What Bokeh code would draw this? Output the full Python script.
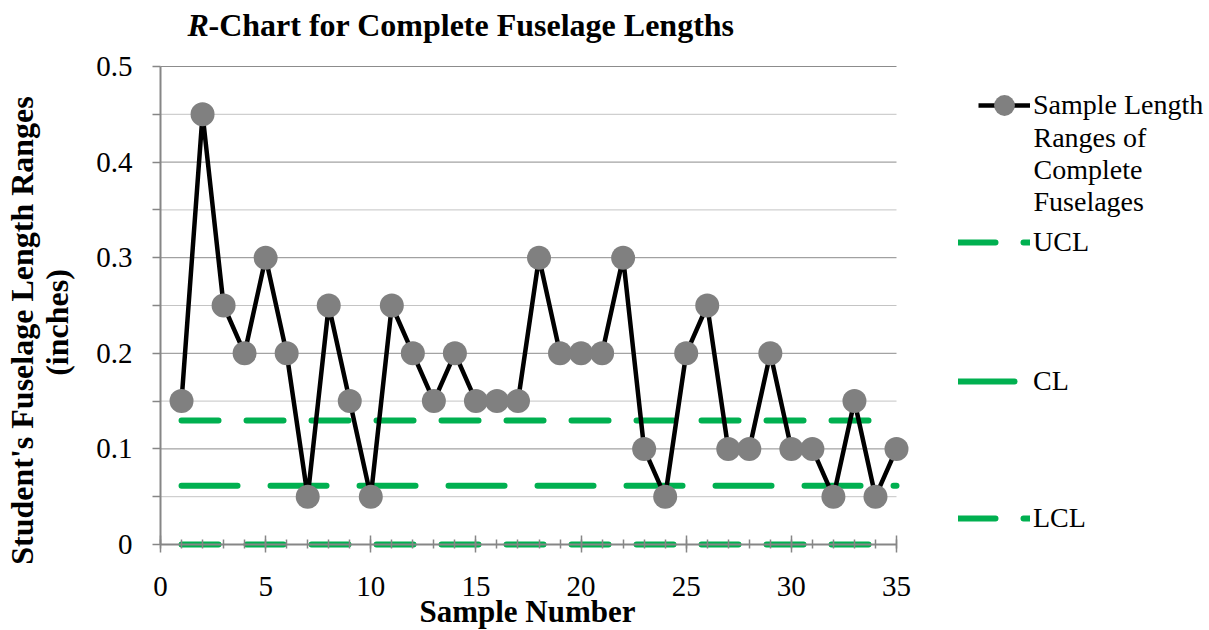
import math
from bokeh.plotting import figure
from bokeh.models import FixedTicker, Label, Legend, LegendItem, Range1d
from bokeh.embed import file_html
from bokeh.resources import INLINE

# ---- data -------------------------------------------------------------
sample_number = list(range(1, 36))
sample_range = [0.15, 0.45, 0.25, 0.20, 0.30, 0.20, 0.05, 0.25, 0.15, 0.05,
                0.25, 0.20, 0.15, 0.20, 0.15, 0.15, 0.15, 0.30, 0.20, 0.20,
                0.20, 0.30, 0.10, 0.05, 0.20, 0.25, 0.10, 0.10, 0.20, 0.10,
                0.10, 0.05, 0.15, 0.05, 0.10]
ucl_value = 0.1298
cl_value = 0.0614
lcl_value = 0.0

x_ticks = [0, 5, 10, 15, 20, 25, 30, 35]
x_minor_ticks = list(range(0, 36))
y_ticks = [0.0, 0.1, 0.2, 0.3, 0.4, 0.5]
y_tick_labels = ["0", "0.1", "0.2", "0.3", "0.4", "0.5"]
y_minor_ticks = [0.05, 0.15, 0.25, 0.35, 0.45]

series_label = ["Sample Length", "Ranges of", "Complete", "Fuselages"]
limit_labels = ["UCL", "CL", "LCL"]

# ---- page geometry ----------------------------------------------------
FONT = "Liberation Serif"
GREEN = "#00B050"
AXIS_GRAY = "#868686"

W, H = 1209, 630
PLOT_L, PLOT_R, PLOT_T, PLOT_B = 160, 896, 66, 544   # pixel box of the axes

# The drawing frame covers the whole page; the axes sit at x=0 / y=0 inside it,
# so titles and the legend beside the axes are never clipped.
x_ticks_span = x_ticks[-1] - x_ticks[0]
y_ticks_span = y_ticks[-1] - y_ticks[0]
kx = (PLOT_R - PLOT_L) / x_ticks_span
ky = (PLOT_B - PLOT_T) / y_ticks_span
x_range = Range1d(x_ticks[0] - PLOT_L / kx, x_ticks[-1] + (W - PLOT_R) / kx)
y_range = Range1d(y_ticks[0] - (H - PLOT_B) / ky, y_ticks[-1] + PLOT_T / ky)

p = figure(width=W, height=H, output_backend="svg", toolbar_location=None,
           x_range=x_range, y_range=y_range,
           min_border=0, min_border_left=0, min_border_right=0,
           min_border_top=0, min_border_bottom=0)
p.title.visible = False
p.outline_line_color = None
p.xgrid.visible = False
p.ygrid.visible = False
p.background_fill_color = "white"
p.border_fill_color = "white"

# horizontal grid lines across the sample axis
major_grid = [t for t in y_ticks if t > 0]
p.multi_line(xs=[[x_ticks[0], x_ticks[-1]] for _ in y_minor_ticks],
             ys=[[t, t] for t in y_minor_ticks],
             line_color="#C4C4C4", line_width=1)
p.multi_line(xs=[[x_ticks[0], x_ticks[-1]] for _ in major_grid],
             ys=[[t, t] for t in major_grid],
             line_color="#8C8C8C", line_width=1)

# control limits
ucl_r = p.line(sample_number, [ucl_value] * len(sample_number), line_color=GREEN,
               line_width=6, line_dash="37 28", line_cap="round")
cl_r = p.line(sample_number, [cl_value] * len(sample_number), line_color=GREEN,
              line_width=6, line_dash="56 33", line_cap="round")
lcl_r = p.line(sample_number, [lcl_value] * len(sample_number), line_color=GREEN,
               line_width=6, line_dash="37 28", line_cap="round")

# sample ranges
line_r = p.line(sample_number, sample_range, line_color="black", line_width=4.5,
                line_join="round")
dots_r = p.scatter(sample_number, sample_range, marker="circle", size=24,
                   fill_color="#808080", line_color=None)

# ---- axes -------------------------------------------------------------
xa = p.xaxis[0]
xa.ticker = FixedTicker(ticks=x_ticks, minor_ticks=x_minor_ticks)
xa.fixed_location = y_ticks[0]
xa.bounds = (x_ticks[0], x_ticks[-1])
xa.axis_line_color = AXIS_GRAY
xa.axis_line_width = 2
xa.major_tick_line_color = AXIS_GRAY
xa.minor_tick_line_color = AXIS_GRAY
xa.major_tick_line_width = 1.5
xa.minor_tick_line_width = 1.5
xa.major_tick_in = 9
xa.major_tick_out = 8
xa.minor_tick_in = 5
xa.minor_tick_out = 4
xa.major_label_standoff = 24
xa.major_label_text_font = FONT
xa.major_label_text_font_size = "29px"
xa.major_label_text_color = "black"

ya = p.yaxis[0]
ya.ticker = FixedTicker(ticks=y_ticks, minor_ticks=y_minor_ticks)
ya.fixed_location = x_ticks[0]
ya.bounds = (y_ticks[0], y_ticks[-1])
ya.major_label_overrides = dict(zip(y_ticks, y_tick_labels))
ya.axis_line_color = AXIS_GRAY
ya.axis_line_width = 2
ya.major_tick_line_color = AXIS_GRAY
ya.minor_tick_line_color = AXIS_GRAY
ya.major_tick_line_width = 1.5
ya.minor_tick_line_width = 1.5
ya.major_tick_in = 0
ya.major_tick_out = 8
ya.minor_tick_in = 0
ya.minor_tick_out = 8
ya.major_label_standoff = 20
ya.major_label_text_font = FONT
ya.major_label_text_font_size = "29px"
ya.major_label_text_color = "black"

# ---- title and axis titles (page pixels from the top-left corner) -------
def add_text(text, x, y_top, size, style="normal", align="left", angle=0.0):
    p.add_layout(Label(x=x, y=H - y_top, x_units="screen", y_units="screen",
                       text=text, text_font=FONT, text_font_size=size,
                       text_font_style=style, text_align=align,
                       text_baseline="middle", angle=angle, text_color="black"))

add_text("R", 187, 24, "32px", style="bold italic")
add_text("-Chart for Complete Fuselage Lengths", 208, 24, "32px", style="bold")
add_text("Sample Number", 527, 611, "31px", style="bold", align="center")
add_text("Student's Fuselage Length Ranges", 21, 330, "32px", style="bold",
         align="center", angle=math.pi / 2)
add_text("(inches)", 56, 322, "32px", style="bold",
         align="center", angle=math.pi / 2)

# ---- legend -----------------------------------------------------------
def add_legend(label, renderers, x, glyph_w, y_center, row_h):
    lg = Legend(items=[LegendItem(label=label, renderers=renderers)],
                location=(x, H - y_center - row_h / 2), orientation="vertical",
                border_line_color=None, background_fill_alpha=0,
                padding=0, margin=0, spacing=0,
                glyph_width=glyph_w, glyph_height=row_h, label_height=row_h,
                label_standoff=3, label_text_font=FONT,
                label_text_font_size="28px", label_text_color="black")
    p.add_layout(lg)

add_legend(series_label[0], [line_r, dots_r], 978, 52, 105, 60)
for i, txt in enumerate(series_label[1:]):
    add_text(txt, 1033, 137 + 32 * i, "28px")
add_legend(limit_labels[0], [ucl_r], 958, 72, 242, 32)
add_legend(limit_labels[1], [cl_r], 958, 72, 381, 32)
add_legend(limit_labels[2], [lcl_r], 958, 72, 518, 32)

open("out.html", "w").write(file_html(p, INLINE))
